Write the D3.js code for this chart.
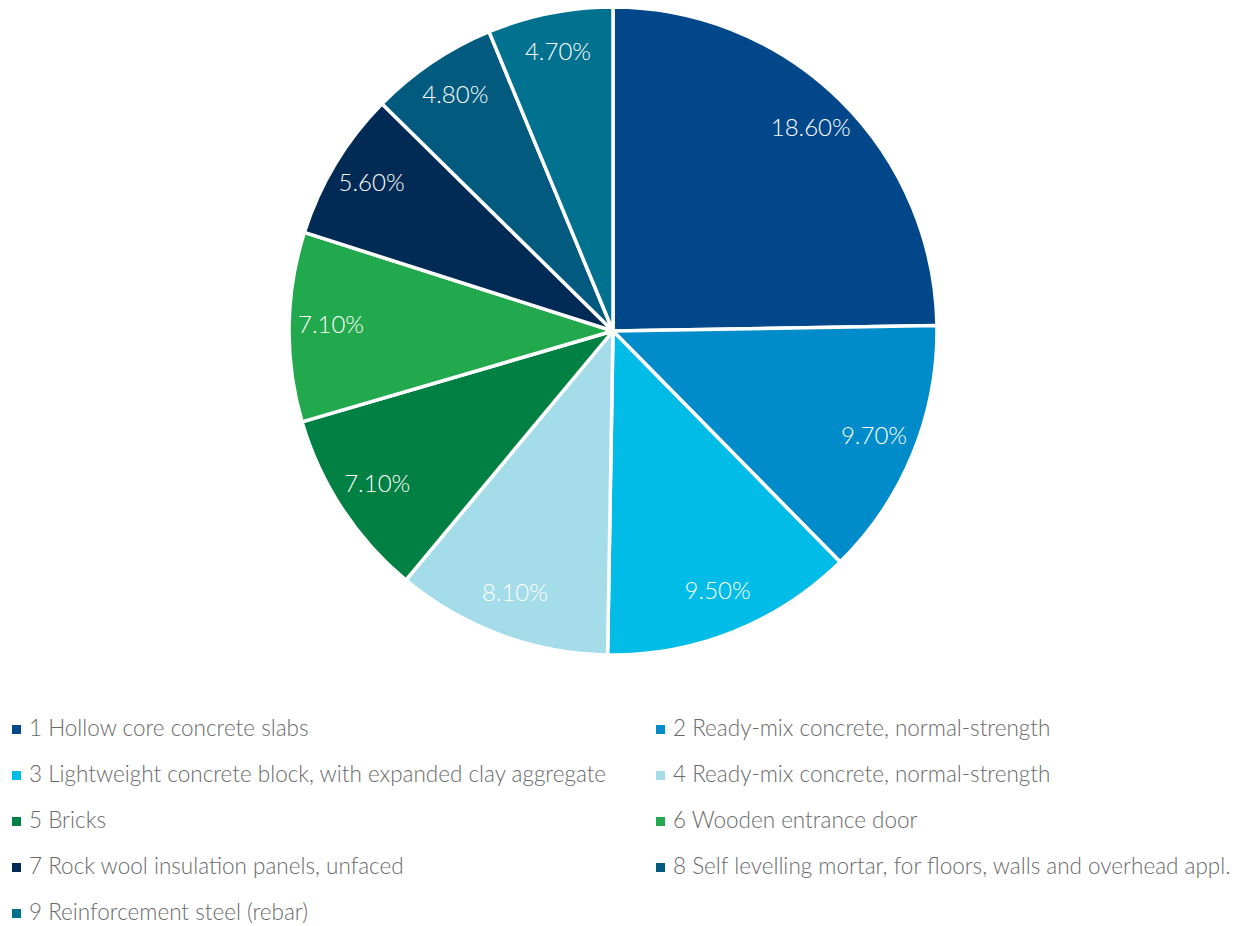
<!DOCTYPE html>
<html>
<head>
<meta charset="utf-8">
<script src="https://cdn.jsdelivr.net/npm/d3@7"></script>
<style>
  body { margin: 0; background: #fff; }
  svg { display: block; font-family: 'Source Sans Pro', Lato, 'Open Sans', sans-serif; font-weight: 300; }
</style>
</head>
<body>
<main></main>
<script>
const categories = [
  '1 Hollow core concrete slabs',
  '2 Ready-mix concrete, normal-strength',
  '3 Lightweight concrete block, with expanded clay aggregate',
  '4 Ready-mix concrete, normal-strength',
  '5 Bricks',
  '6 Wooden entrance door',
  '7 Rock wool insulation panels, unfaced',
  '8 Self levelling mortar, for floors, walls and overhead appl.',
  '9 Reinforcement steel (rebar)',
];
const values = [18.6, 9.7, 9.5, 8.1, 7.1, 7.1, 5.6, 4.8, 4.7];
const colors = [
  '#02478a',
  '#008bcb',
  '#00bce6',
  '#a4dcea',
  '#008043',
  '#22a84d',
  '#012a55',
  '#025a7e',
  '#00718f',
];

const dimensions = {
  width: 1247,
  height: 926,
  cx: 613,
  cy: 331,
  radius: 324,
  labelRadius: 282,
};

const data = categories.map((name, i) => ({ name, value: values[i], color: colors[i] }));

const svg = d3
  .select('main')
  .append('svg')
  .attr('width', dimensions.width)
  .attr('height', dimensions.height);

const pie = d3
  .pie()
  .sort(null)
  .value(d => d.value);

const arcs = pie(data);

const arc = d3.arc().innerRadius(0).outerRadius(dimensions.radius);
const labelArc = d3
  .arc()
  .innerRadius(dimensions.labelRadius)
  .outerRadius(dimensions.labelRadius);

const pieGroup = svg
  .append('g')
  .attr('transform', `translate(${dimensions.cx} ${dimensions.cy})`);

pieGroup
  .selectAll('path')
  .data(arcs)
  .join('path')
  .attr('d', arc)
  .attr('fill', d => d.data.color)
  .attr('stroke', '#fff')
  .attr('stroke-width', 3.5)
  .attr('stroke-linejoin', 'round');

pieGroup
  .selectAll('text')
  .data(arcs)
  .join('text')
  .attr('transform', d => `translate(${labelArc.centroid(d)})`)
  .attr('text-anchor', 'middle')
  .attr('dominant-baseline', 'middle')
  .attr('fill', '#fff')
  .attr('font-size', 24)
  .text(d => `${d.data.value.toFixed(2)}%`);

// legend, two columns
const legend = svg.append('g');
const legendItem = legend
  .selectAll('g')
  .data(data)
  .join('g')
  .attr('transform', (d, i) => {
    const x = i % 2 === 0 ? 12 : 656;
    const y = 730 + Math.floor(i / 2) * 46;
    return `translate(${x} ${y})`;
  });

legendItem
  .append('rect')
  .attr('x', 0)
  .attr('y', -5)
  .attr('width', 9)
  .attr('height', 9)
  .attr('fill', d => d.color);

legendItem
  .append('text')
  .attr('x', 17)
  .attr('dominant-baseline', 'middle')
  .attr('fill', '#6a6a6a')
  .attr('font-size', 22.5)
  .text(d => d.name);
</script>
</body>
</html>
